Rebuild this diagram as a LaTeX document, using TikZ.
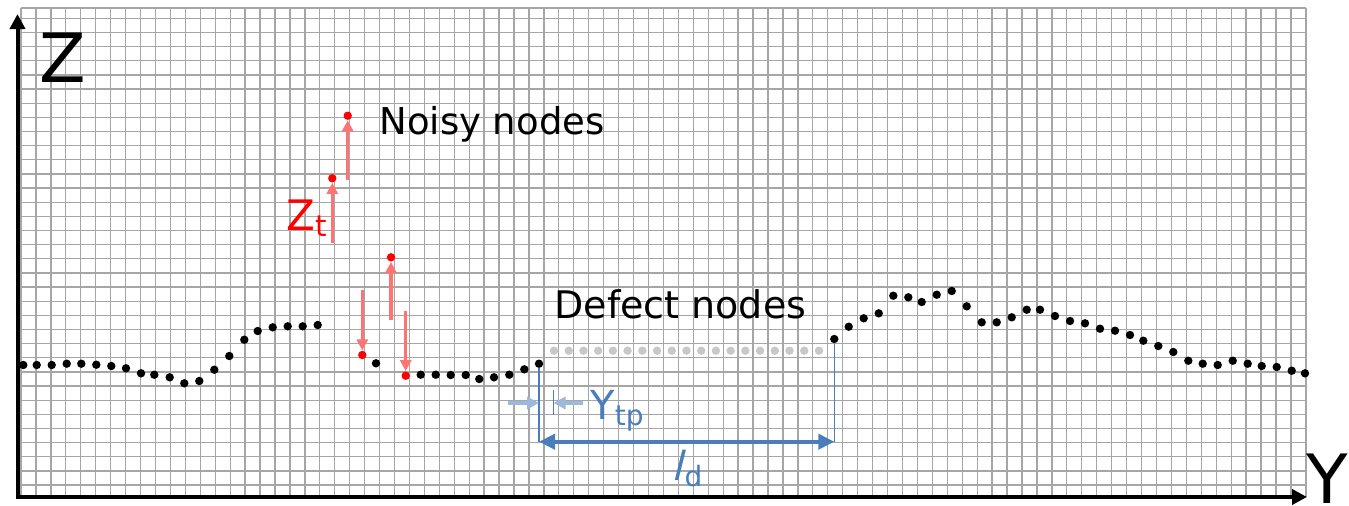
\documentclass[tikz,border=0pt]{standalone}
\usepackage{fontspec}
\setmainfont{DejaVu Sans}
\newfontfamily\slfont[FakeSlant=0.25]{DejaVu Sans}
\usetikzlibrary{arrows.meta}
\definecolor{gridgray}{HTML}{A6A6A6}
\definecolor{dimblue}{HTML}{4A7EBB}
\definecolor{defectgray}{HTML}{C8C8C8}

\begin{document}
\begin{tikzpicture}[
  x=0.5pt, y=-0.5pt,
  gridline/.style={gridgray, line width=0.65pt},
  axis/.style={{Triangle[length=7.5pt,width=7.5pt]}-{Triangle[length=7.5pt,width=7.5pt]}, line width=2pt, line join=miter},
  pt/.style={circle, fill=black, inner sep=0pt, minimum size=4.2pt},
  noisypt/.style={pt, fill=red},
  defectpt/.style={pt, fill=defectgray},
  noise/.style={-{Triangle[length=5.5pt,width=5.5pt]}, line width=1.7pt, red!55},
  ext/.style={dimblue, line width=0.8pt},
  dim/.style={{Triangle[length=8pt,width=7.5pt]}-{Triangle[length=8pt,width=7.5pt]}, dimblue, line width=2.2pt},
  gap/.style={-{Triangle[length=6pt,width=6pt]}, dimblue!55, line width=2pt},
  lbl/.style={anchor=base west, inner sep=0pt}
]
  \useasboundingbox (0,0) rectangle (1349,505);

  % Grid
  \foreach \i in {0,...,86}
    \draw[gridline] ({21+14.94*\i},8) -- ({21+14.94*\i},497);
  \foreach \j in {0,...,33}
    \draw[gridline] (21,{485-14.14*\j}) -- (1306,{485-14.14*\j});
  \draw[gridline] (21,8) -- (1306,8);

  % Axes
  \coordinate (o) at (17.5,497);
  \coordinate (ztop) at (17.5,14);
  \coordinate (yend) at (1307,497);
  \draw[axis] (ztop) -- (o) -- (yend);
  \node[lbl, font=\fontsize{34}{34}\selectfont] (zlab) at (39,82) {Z};
  \node[lbl, font=\fontsize{34}{34}\selectfont] (ylab) at (1306,503) {Y};

  % Surface nodes, left part
  \foreach \x/\y [count=\i] in {23.3/365, 36.7/365, 51.7/365, 66.7/363.7, 81.3/363.7,
      96.3/364.7, 111.3/366, 126/368.3, 141/373.3, 154.3/374.7, 169.7/377.3,
      184.3/383.3, 199.3/381, 214.3/369.7, 229.3/356, 244.3/339.7, 257.7/331,
      272.7/327.3, 287.7/326.3, 302.7/326.3, 317.7/325}
    \node[pt] (a\i) at (\x,\y) {};
  \foreach \x/\y [count=\i] in {376/363.3, 420.7/374.7, 435.7/374.7, 450.7/375,
      465.7/375, 479.3/379, 494/377.3, 509.3/374.7, 524.3/369.3, 539/363.7}
    \node[pt] (b\i) at (\x,\y) {};

  % Noisy nodes
  \node[noisypt] (n1) at (332.3,178.3) {};
  \node[noisypt] (n2) at (347.7,115.7) {};
  \node[noisypt] (n3) at (362.3,355) {};
  \node[noisypt] (n4) at (391,257.3) {};
  \node[noisypt] (n5) at (405.7,375.7) {};
  \coordinate (s1) at (332.3,243);
  \coordinate (s2) at (347.7,180);
  \coordinate (s3) at (362.3,290);
  \coordinate (s4) at (391,320);
  \coordinate (s5) at (405.7,311);
  \foreach \k in {1,...,5}
    \draw[noise] (s\k) -- (n\k);
  \node[lbl, font=\fontsize{21}{21}\selectfont, red] (zt) at (286,230) {Z\textsubscript{t}};
  \node[lbl, font=\fontsize{18.5}{18.5}\selectfont] (noisy) at (379,134) {Noisy nodes};

  % Defect nodes
  \foreach \i in {1,...,19}
    \node[defectpt] (d\i) at ({554+14.72*(\i-1)},350.7) {};
  \node[lbl, font=\fontsize{19}{19}\selectfont] (defect) at (554,318) {Defect nodes};

  % Surface nodes, right part
  \foreach \x/\y [count=\i] in {834.3/339, 848.7/326.7, 863.7/318.3, 878.7/313.3,
      893.3/295.7, 908.3/297.3, 921.7/302, 936.7/294.7, 951.7/291, 966.7/306.3,
      981.7/322.3, 996.7/322.3, 1011.7/317.3, 1026.7/309.7, 1040/309.7, 1055/316,
      1070/321, 1085/323.3, 1100/328.7, 1115/330.7, 1130/335, 1143.3/340.7,
      1158.3/346, 1173.3/352, 1188.3/360.7, 1202.7/363.7, 1217.7/365, 1232.7/360.7,
      1247.7/363.7, 1261.7/366, 1276.7/367, 1291.7/370.7, 1305/373.3}
    \node[pt] (c\i) at (\x,\y) {};

  % Defect length
  \coordinate (dl) at (539,441.7);
  \coordinate (dr) at (834.3,441.7);
  \draw[ext] (b10.south) -- (dl);
  \draw[ext] (c1.south) -- (dr);
  \draw[dim] (dl) -- (dr);
  \node[lbl, font=\fontsize{20}{20}\selectfont, dimblue] (ld) at (671,480) {{\slfont l}\kern1pt\textsubscript{d}};

  % Y_tp gap
  \coordinate (t1) at (553.5,390);
  \coordinate (t2) at (553.5,415);
  \draw[ext] (t1) -- (t2);
  \coordinate (g1) at (508,403);
  \coordinate (g2) at (583,403);
  \draw[gap] (g1) -- (dl |- g1);
  \draw[gap] (g2) -- (t1 |- g2);
  \node[lbl, font=\fontsize{20}{20}\selectfont, dimblue] (ytp) at (590,419) {Y\textsubscript{tp}};
\end{tikzpicture}
\end{document}
